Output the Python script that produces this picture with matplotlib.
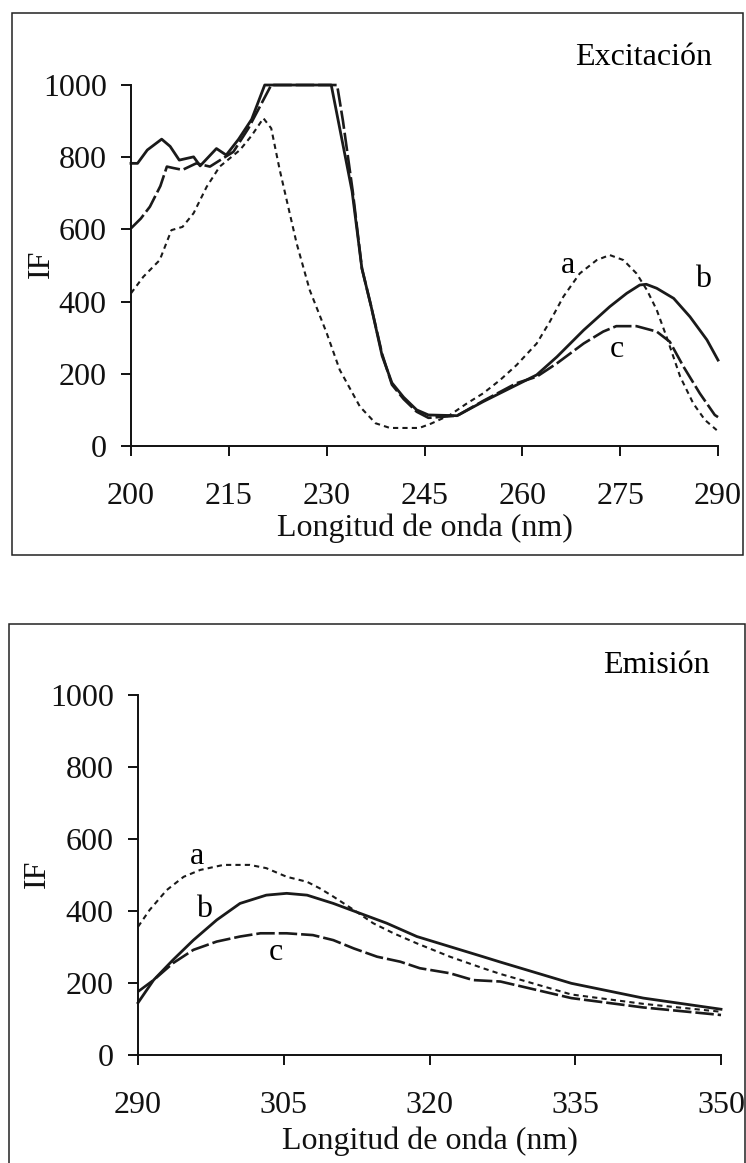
import matplotlib
matplotlib.use("Agg")
import matplotlib.pyplot as plt
from matplotlib.patches import Rectangle

plt.rcParams['font.family'] = ['Liberation Serif', 'DejaVu Serif']

# Excitacion spectra (IF vs nm)
exc_a_x = [200, 201.9, 204.4, 206.2, 207.9, 209.6, 211.6, 213.6, 216.7, 218.5, 220.3, 221.5, 222.8,
           225.4, 227.4, 230, 232, 235.1, 237.5, 239.7, 244.2, 246, 248.9, 251.5, 254, 256.6, 259.1,
           262.2, 264.2, 266.3, 268.8, 271.4, 273.4, 275.5, 277.5, 279.1, 280.6, 282.1, 284.2, 286.2,
           288, 289.8]
exc_a_y = [423, 469, 515, 598, 607, 645, 718, 774, 820, 860, 908, 880, 765,
           561, 432, 313, 211, 109, 63, 50, 50, 62, 86, 118, 146, 183, 224,
           284, 344, 414, 478, 515, 529, 515, 478, 432, 377, 303, 192, 118,
           72, 44]

exc_b_x = [200, 201, 202.5, 204.7, 206, 207.4, 209.6, 210.6, 213.1, 214.6, 216.5, 218.5, 220.5,
           230.7, 233.9, 235.4, 236.8, 238.5, 240, 241.8, 243.8, 245.6, 250, 254, 259.1, 262.2,
           265.3, 269.4, 273.4, 276, 278, 279, 280.6, 283.2, 285.7, 288.3, 290]
exc_b_y = [783, 783, 820, 850, 830, 792, 801, 776, 824, 806, 850, 905, 1000,
           1000, 705, 492, 388, 250, 175, 135, 100, 86, 84, 123, 169, 197,
           247, 321, 386, 423, 446, 448, 437, 409, 358, 294, 238]

exc_c_x = [200, 201.5, 202.9, 204.5, 205.5, 206.5, 207.9, 210, 212.1, 213.5, 215.7, 218, 221.5,
           231.6, 232.5, 234, 235.4, 236.8, 238.5, 240, 241.8, 243.8, 245.6, 250, 254, 259.1,
           262.2, 265.3, 269.4, 272.4, 274.4, 277.5, 280.6, 282.6, 284.7, 287.2, 289.5, 290]
exc_c_y = [603, 630, 663, 720, 774, 770, 765, 783, 774, 790, 815, 880, 1000,
           1000, 900, 705, 492, 388, 255, 170, 130, 95, 78, 84, 125, 174,
           192, 229, 284, 317, 332, 332, 317, 289, 220, 146, 86, 80]

# Emision spectra
em_a_x = [290, 291.2, 292.95, 294.7, 296.4, 298.8, 301.5, 303.2, 305.3, 307.4, 308.7, 310.1,
          312.2, 314.2, 316.3, 318.7, 322.1, 325.5, 327.3, 334.6, 342, 350]
em_a_y = [356, 403, 458, 495, 514, 528, 528, 519, 495, 481, 463, 440,
          403, 366, 338, 310, 273, 241, 225, 168, 142, 120]

em_b_x = [290, 291.6, 293.6, 295.7, 298.1, 300.5, 303.2, 305.3, 307.4, 310.1, 312.8, 315.6,
          318.7, 322.1, 325.5, 327.3, 334.6, 342, 350]
em_b_y = [145, 208, 264, 319, 375, 421, 444, 449, 444, 421, 394, 366,
          329, 301, 273, 258, 199, 158, 127]

em_c_x = [290, 291.6, 293.6, 295.7, 298.1, 300.5, 302.6, 305.3, 308, 310.1, 312.2, 314.6,
          317, 319, 322.1, 324.5, 327.3, 334.6, 342, 350]
em_c_y = [176, 208, 255, 292, 315, 329, 338, 338, 333, 319, 296, 273,
          259, 241, 227, 208, 204, 158, 132, 111]

exc_ticks = [200, 215, 230, 245, 260, 275, 290]
em_ticks = [290, 305, 320, 335, 350]
y_ticks = [0, 200, 400, 600, 800, 1000]

FS = 23

fig = plt.figure(figsize=(7.46, 11.63), dpi=100)

# outer frames around each panel
fig.patches.append(Rectangle((0.0161, 0.5228), 0.980, 0.466, transform=fig.transFigure,
                             fill=False, edgecolor='#222222', linewidth=1.1))
fig.patches.append(Rectangle((0.0121, -0.05), 0.9866, 0.5135, transform=fig.transFigure,
                             fill=False, edgecolor='#222222', linewidth=1.1))

ax1 = fig.add_axes([0.1756, 0.6165, 0.7869, 0.3104])
ax2 = fig.add_axes([0.1850, 0.0929, 0.7815, 0.3095])


def style_axis(ax, xticks, xlabelpad):
    for s in ['top', 'right']:
        ax.spines[s].set_visible(False)
    for s in ['left', 'bottom']:
        ax.spines[s].set_linewidth(1.4)
        ax.spines[s].set_color('#111111')
    ax.set_xticks(xticks)
    ax.set_yticks(y_ticks)
    ax.set_xlim(xticks[0], xticks[-1])
    ax.set_ylim(0, 1000)
    ax.tick_params(axis='both', direction='out', length=7.5, width=1.4, labelsize=FS, colors='#111111')
    ax.tick_params(axis='x', pad=18.5)
    ax.tick_params(axis='y', pad=10)
    ax.set_xlabel('Longitud de onda (nm)', fontsize=FS, labelpad=xlabelpad, color='#111111')
    ax.set_ylabel('IF', fontsize=FS, va='center', color='#111111')


style_axis(ax1, exc_ticks, 1.5)
style_axis(ax2, em_ticks, 4.5)
ax1.yaxis.set_label_coords(-0.153, 0.504)
ax2.yaxis.set_label_coords(-0.172, 0.504)

k = dict(color='#1a1a1a', clip_on=False)
ax1.plot(exc_a_x, exc_a_y, linestyle=(0, (2.5, 2)), linewidth=1.5, **k)
ax1.plot(exc_c_x, exc_c_y, linestyle=(0, (7, 1.5)), linewidth=1.9, **k)
ax1.plot(exc_b_x, exc_b_y, linestyle='-', linewidth=2.0, **k)

ax2.plot(em_a_x, em_a_y, linestyle=(0, (2.5, 2)), linewidth=1.5, **k)
ax2.plot(em_c_x, em_c_y, linestyle=(0, (7, 1.5)), linewidth=1.9, **k)
ax2.plot(em_b_x, em_b_y, linestyle='-', linewidth=2.0, **k)

ax1.text(0.9898, 1.055, 'Excitación', transform=ax1.transAxes, ha='right', va='baseline', fontsize=FS)
ax2.text(0.980, 1.061, 'Emisión', transform=ax2.transAxes, ha='right', va='baseline', fontsize=FS)

ax1.text(267.0, 501, 'a', ha='center', va='center', fontsize=FS)
ax1.text(287.7, 460, 'b', ha='center', va='center', fontsize=FS)
ax1.text(274.5, 266, 'c', ha='center', va='center', fontsize=FS)

ax2.text(296.1, 550, 'a', ha='center', va='center', fontsize=FS)
ax2.text(296.8, 403, 'b', ha='center', va='center', fontsize=FS)
ax2.text(304.2, 286, 'c', ha='center', va='center', fontsize=FS)

fig.savefig('out.png', dpi=100)
